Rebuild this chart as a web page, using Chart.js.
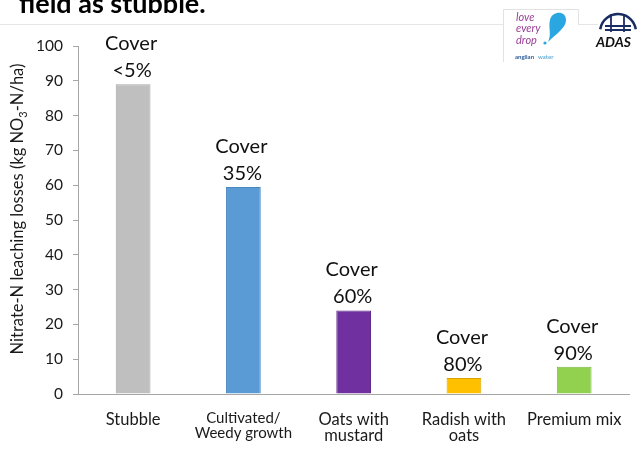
<!DOCTYPE html>
<html>
<head>
<meta charset="utf-8">
<script src="https://cdn.jsdelivr.net/npm/chart.js@4.4.0/dist/chart.umd.min.js"></script>
<style>
  html, body { margin: 0; padding: 0; background: #fff; }
  #wrap { width: 639px; height: 451px; }
</style>
</head>
<body>
<div id="wrap"><canvas id="leachChart" width="639" height="451"></canvas></div>
<script>
// categorias y valores
const categorias = ['Stubble', ['Cultivated/', 'Weedy growth'], ['Oats with', 'mustard'], ['Radish with', 'oats'], 'Premium mix'];
const perdidas = [89, 59.5, 24, 4.6, 7.8];
const cobertura = ['<5%', '35%', '60%', '80%', '90%'];
const colores = ['#BFBFBF', '#5B9BD5', '#7030A0', '#FFC000', '#92D050'];
const bordes = ['#A5A5A5', '#4A87C0', '#5C2785', '#D9A400', '#7DB944'];

const FONT = 'Lato, "Open Sans", sans-serif';

// texto "Cover xx%" encima de cada barra
const etiquetasCover = {
    id: 'etiquetasCover',
    afterDatasetsDraw(chart) {
        const ctx = chart.ctx;
        const meta = chart.getDatasetMeta(0);
        ctx.save();
        ctx.fillStyle = '#111';
        ctx.font = '20px ' + FONT;
        ctx.textAlign = 'center';
        ctx.textBaseline = 'alphabetic';
        meta.data.forEach((bar, i) => {
            ctx.fillText('Cover', bar.x - 2, bar.y - 34);
            ctx.fillText(cobertura[i], bar.x - 1, bar.y - 7);
        });
        ctx.restore();
    }
};

// titulo del eje y con subindice
const tituloEjeY = {
    id: 'tituloEjeY',
    afterDraw(chart) {
        const ctx = chart.ctx;
        const partes = ['Nitrate-N leaching losses (kg NO', '3', '-N/ha)'];
        const normal = '16.5px ' + FONT;
        const chico = '11px ' + FONT;
        ctx.save();
        ctx.font = normal;
        const w0 = ctx.measureText(partes[0]).width;
        const w2 = ctx.measureText(partes[2]).width;
        ctx.font = chico;
        const w1 = ctx.measureText(partes[1]).width;
        const total = w0 + w1 + w2;
        ctx.translate(18, 209);
        ctx.rotate(-Math.PI / 2);
        ctx.fillStyle = '#1a1a1a';
        ctx.textBaseline = 'middle';
        ctx.textAlign = 'left';
        let x = -total / 2;
        ctx.font = normal;
        ctx.fillText(partes[0], x, 0);
        x += w0;
        ctx.font = chico;
        ctx.fillText(partes[1], x, 5);
        x += w1;
        ctx.font = normal;
        ctx.fillText(partes[2], x, 0);
        ctx.restore();
    }
};

// titulo cortado arriba y logos
const encabezado = {
    id: 'encabezado',
    afterDraw(chart) {
        const ctx = chart.ctx;
        ctx.save();
        // linea fina bajo el titulo
        ctx.strokeStyle = '#E6E6E6';
        ctx.lineWidth = 1;
        ctx.beginPath();
        ctx.moveTo(0, 24.5); ctx.lineTo(503, 24.5);
        ctx.moveTo(578, 24.5); ctx.lineTo(598, 24.5);
        ctx.stroke();
        // caja del logo
        ctx.strokeStyle = '#E2E2E2';
        ctx.beginPath();
        ctx.moveTo(503.5, 62); ctx.lineTo(503.5, 9.5); ctx.lineTo(578.5, 9.5); ctx.lineTo(578.5, 24);
        ctx.stroke();

        ctx.fillStyle = '#000';
        ctx.font = 'bold 27px ' + FONT;
        ctx.textBaseline = 'alphabetic';
        ctx.textAlign = 'left';
        ctx.fillText('field as stubble.', 19, 13);

        // love every drop
        ctx.fillStyle = '#9B3D96';
        ctx.font = 'italic 11px ' + FONT;
        ctx.fillText('love', 516, 21);
        ctx.fillText('every', 516, 32);
        ctx.fillText('drop', 516, 44);
        ctx.fillStyle = '#2AA6E0';
        ctx.beginPath();
        ctx.moveTo(548, 42);
        ctx.bezierCurveTo(552, 34, 548, 28, 550, 20);
        ctx.bezierCurveTo(552, 11, 566, 10, 566, 20);
        ctx.bezierCurveTo(566, 28, 556, 34, 548, 42);
        ctx.fill();
        ctx.beginPath();
        ctx.arc(545, 43, 1.6, 0, Math.PI * 2);
        ctx.fill();
        ctx.font = 'bold 6px ' + FONT;
        ctx.fillStyle = '#2B5C9A';
        ctx.fillText('anglian', 515, 59);
        ctx.fillStyle = '#6BAFD8';
        ctx.fillText('water', 538, 59);

        // ADAS
        ctx.strokeStyle = '#1A2D63';
        ctx.lineWidth = 2.5;
        ctx.beginPath();
        ctx.arc(618, 32, 18, Math.PI * 1.05, Math.PI * 1.95);
        ctx.stroke();
        ctx.lineWidth = 1.8;
        ctx.beginPath();
        ctx.moveTo(611, 14); ctx.lineTo(611, 32);
        ctx.moveTo(624, 14); ctx.lineTo(624, 32);
        ctx.moveTo(605, 26); ctx.lineTo(631, 26);
        ctx.moveTo(605, 30); ctx.lineTo(631, 30);
        ctx.stroke();
        ctx.fillStyle = '#111';
        ctx.font = 'italic bold 14px ' + FONT;
        ctx.fillText('ADAS', 596, 47);
        ctx.restore();
    }
};

const config = {
    type: 'bar',
    data: {
        labels: categorias,
        datasets: [{
            label: 'Nitrate-N leaching losses',
            data: perdidas,
            backgroundColor: colores,
            borderColor: bordes,
            borderWidth: 1,
            barPercentage: 0.63,
            categoryPercentage: 0.5
        }]
    },
    options: {
        responsive: false,
        animation: false,
        layout: { padding: { top: 46, right: 6, left: 0, bottom: 0 } },
        plugins: {
            legend: { display: false },
            tooltip: { enabled: false }
        },
        scales: {
            x: {
                grid: { display: false, drawTicks: false },
                border: { display: true, color: '#A6A6A6', width: 1 },
                ticks: {
                    color: '#1a1a1a',
                    padding: 17,
                    maxRotation: 0,
                    autoSkip: false,
                    font: (c) => ({ family: FONT, size: c.index === 1 ? 15 : 16.5, lineHeight: 1.0 })
                },
                afterFit: (scale) => { scale.height = 57; }
            },
            y: {
                min: 0,
                max: 100,
                ticks: {
                    stepSize: 10,
                    color: '#1a1a1a',
                    padding: 10,
                    font: { family: FONT, size: 15.5 }
                },
                grid: { display: true, drawOnChartArea: false, drawTicks: true, tickLength: 5, color: '#A6A6A6' },
                border: { display: true, color: '#A6A6A6', width: 1 },
                title: { display: false },
                afterFit: (scale) => { scale.width = 78; }
            }
        }
    },
    plugins: [etiquetasCover, tituloEjeY, encabezado]
};

window.onload = function() {
    const ctx = document.getElementById('leachChart').getContext('2d');
    new Chart(ctx, config);
};
</script>
</body>
</html>
